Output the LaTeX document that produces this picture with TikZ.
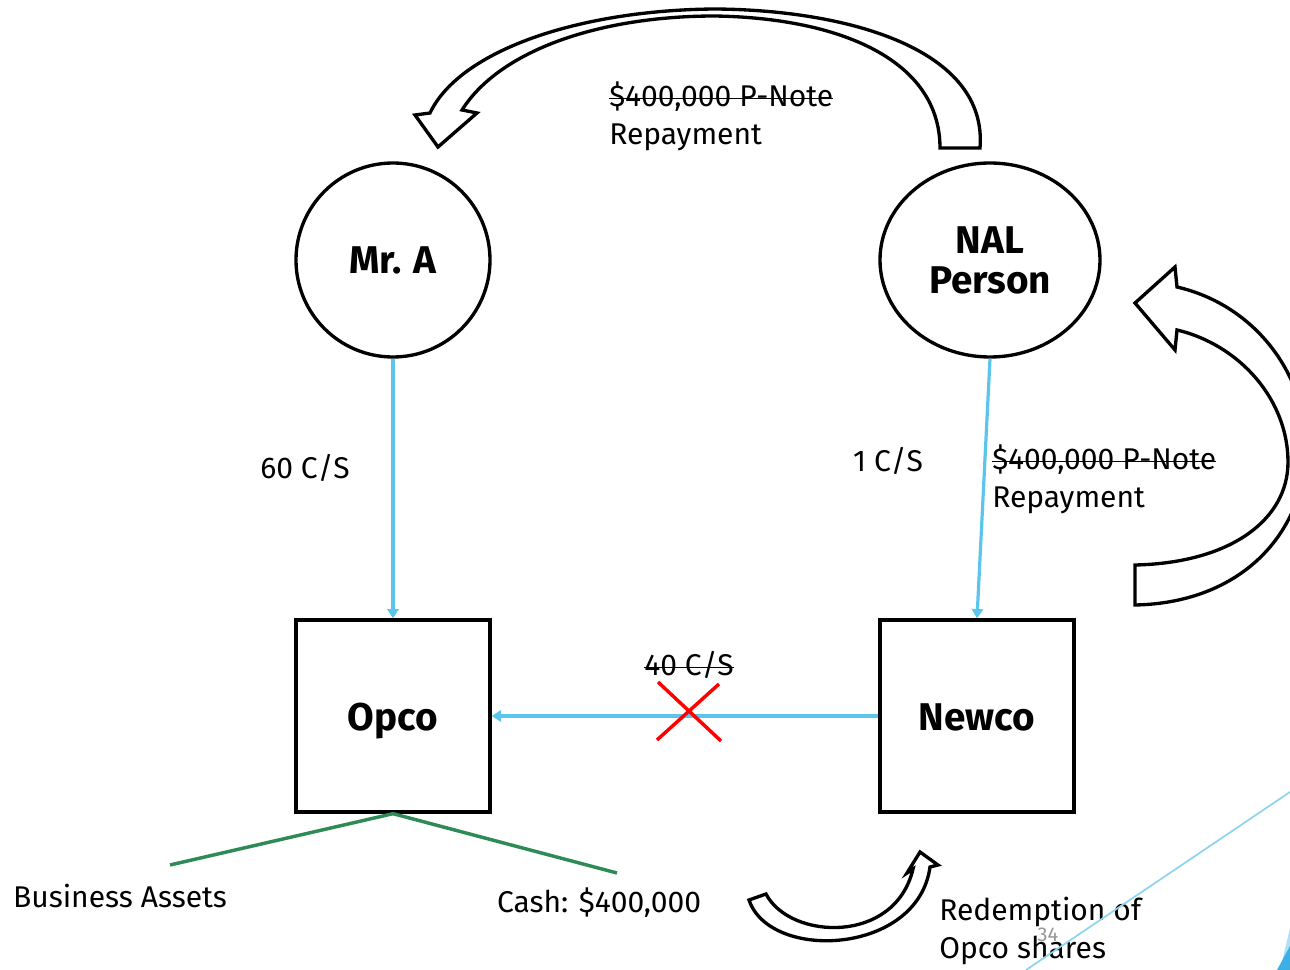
\documentclass[tikz,border=0pt]{standalone}
\usepackage{fontspec}
\setmainfont{Fira Sans}
\usetikzlibrary{arrows.meta,shapes.geometric}
\newcommand\strk[1]{\leavevmode\sbox0{#1}\rlap{\rule[0.45ex]{\wd0}{1pt}}\usebox0}
\definecolor{flowblue}{RGB}{91,197,235}
\definecolor{lineblue}{RGB}{140,212,240}
\definecolor{deepblue}{RGB}{60,175,228}
\definecolor{assetgreen}{RGB}{46,139,87}
\definecolor{pagegray}{RGB}{150,150,150}
\tikzset{
  txt/.style={font=\fontsize{22.5}{28.5}\selectfont, inner sep=0pt},
  bold/.style={font=\fontsize{29}{30}\selectfont\bfseries, align=center},
  person/.style={draw, line width=2.5pt, bold, inner sep=0pt},
  company/.style={draw, line width=2.5pt, bold, minimum width=145.5pt, minimum height=144pt, inner sep=0pt, text height=21pt, text depth=0pt},
  flow/.style={draw=flowblue, line width=2.4pt, -{Triangle[width=8.5pt,length=7pt]}},
  blockarrow/.style={draw=black, line width=2.5pt, fill=white, line join=miter},
  branch/.style={draw=assetgreen, line width=2.6pt},
  cross/.style={draw=red, line width=2.6pt}
}
\begin{document}
\begin{tikzpicture}[x=0.75pt,y=-0.75pt]
\useasboundingbox (0,0) rectangle (1290,970);

% nodes
\node[person, circle, minimum size=145.5pt] (mra) at (393,260) {Mr. A};
\node[person, ellipse, minimum width=165pt, minimum height=145.5pt] (nal) at (990,260) {NAL\\Person};
\node[company] (opco) at (393,716) {Opco};
\node[company] (newco) at (977,716) {Newco};

% ownership connectors
\draw[flow] (mra.south) -- (opco.north);
\draw[flow] (nal.south) -- (newco.north);
\draw[flow] (newco.west) -- (opco.east);

\node[txt] (l60) at (305,468) {60 C/S};
\node[txt] (l1) at (888,461) {1 C/S};
\node[txt] (l40) at (689,665) {\strk{40 C/S}};
\node[txt, anchor=west, align=left] (lright) at (992,479) {\strk{\$400,000 P-Note}\\Repayment};
\node[txt, anchor=west, align=left] (ltop) at (609,116) {\strk{\$400,000 P-Note}\\Repayment};

% red cross
\coordinate (x1) at (658,682); \coordinate (x2) at (721,741);
\coordinate (x3) at (719,684); \coordinate (x4) at (657,740);
\draw[cross] (x1) -- (x2);
\draw[cross] (x3) -- (x4);

% assets
\coordinate (ba) at (170,865);
\coordinate (ca) at (617,873);
\draw[branch] (ba) -- (opco.south) -- (ca);
\node[txt] (lba) at (120,896) {Business Assets};
\node[txt] (lca) at (599,903) {Cash: \$400,000};

% top curved block arrow
\draw[blockarrow] (940,148) -- (980,148)
  .. controls (988,50) and (850,10) .. (715,9)
  .. controls (580,10) and (460,50) .. (430,113)
  -- (415,115) -- (438,147) -- (477,113) -- (462,110)
  .. controls (500,50) and (600,16) .. (715,16)
  .. controls (840,18) and (940,60) .. (940,148) -- cycle;

% right curved block arrow
\draw[blockarrow] (1135,605) -- (1135,565)
  .. controls (1230,563) and (1288,520) .. (1288,462)
  .. controls (1288,400) and (1240,345) .. (1177,330)
  -- (1175,350) -- (1135,303) -- (1175,267) -- (1177,287)
  .. controls (1255,305) and (1308,375) .. (1306,452)
  .. controls (1303,535) and (1240,603) .. (1135,605) -- cycle;

% bottom curved block arrow
\draw[blockarrow] (749,900) -- (766,894)
  .. controls (790,940) and (895,945) .. (913,869)
  -- (907,873) -- (920,852) -- (938,865) -- (930,867)
  .. controls (918,955) and (770,962) .. (749,900) -- cycle;

\node[txt, anchor=west, align=left] (lred) at (939,931) {Redemption of\\Opco shares};

% slide decorations
\draw[lineblue, line width=1.3pt] (1290,792) -- (1026,970);
\fill[lineblue!70] (1280,970) -- (1290,928) -- (1290,970) -- cycle;
\fill[deepblue] (1277,970) -- (1290,946) -- (1290,970) -- cycle;
\node[font=\fontsize{15}{18}\selectfont, text=pagegray, inner sep=0pt] (pg) at (1048,935) {34};
\end{tikzpicture}
\end{document}
